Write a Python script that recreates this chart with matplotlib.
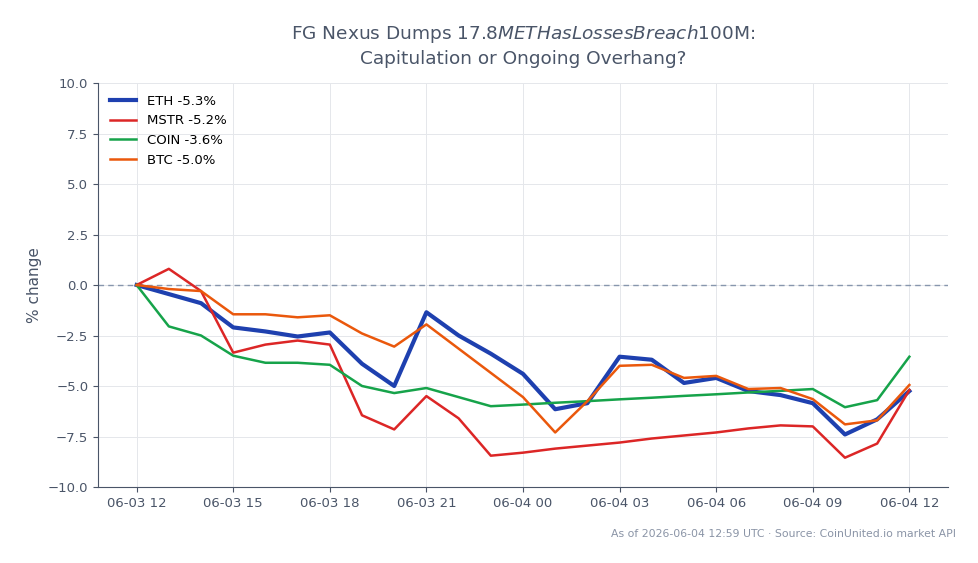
import numpy as np
import pandas as pd
import matplotlib
matplotlib.use("Agg")
import matplotlib.pyplot as plt
import matplotlib.dates as mdates

# hourly closes, % change since 2026-06-03 12:00 UTC
times = pd.date_range("2026-06-03 12:00", "2026-06-04 12:00", freq="h")

eth = [0.0, -0.45, -0.9, -2.1, -2.3, -2.55, -2.35, -3.9, -5.0, -1.35,
       -2.5, -3.4, -4.4, -6.15, -5.85, -3.55, -3.7, -4.85, -4.6, -5.25,
       -5.45, -5.85, -7.4, -6.65, -5.25]
mstr = [0.0, 0.8, -0.3, -3.35, -2.95, -2.75, -2.95, -6.45, -7.15, -5.5,
        -6.6, -8.45, -8.3, -8.1, -7.95, -7.8, -7.6, -7.45, -7.3, -7.1,
        -6.95, -7.0, -8.55, -7.85, -5.2]
coin = [0.0, -2.05, -2.5, -3.5, -3.85, -3.85, -3.95, -5.0, -5.35, -5.1,
        -5.55, -6.0, -5.92, -5.83, -5.75, -5.66, -5.58, -5.49, -5.41, -5.32,
        -5.24, -5.15, -6.05, -5.7, -3.55]
btc = [0.0, -0.2, -0.3, -1.45, -1.45, -1.6, -1.5, -2.4, -3.05, -1.95,
       -3.15, -4.35, -5.55, -7.3, -5.75, -4.0, -3.95, -4.6, -4.5, -5.15,
       -5.1, -5.65, -6.9, -6.7, -4.95]

series = [("ETH", eth, "#1e40af", 3.0),
          ("MSTR", mstr, "#dc2626", 1.8),
          ("COIN", coin, "#16a34a", 1.8),
          ("BTC", btc, "#ea580c", 1.8)]
last_pct = {"ETH": -5.3, "MSTR": -5.2, "COIN": -3.6, "BTC": -5.0}

text_col = "#4a5568"

fig = plt.figure(figsize=(9.79, 5.63), dpi=100)
ax = fig.add_axes([98 / 979, 1 - 487 / 563, 850 / 979, 404 / 563])

for name, vals, col, lw in series:
    ax.plot(times, vals, color=col, lw=lw, label=f"{name} {last_pct[name]:.1f}%")

ax.axhline(0, color="#8796ad", lw=1, ls=(0, (4, 3)), zorder=1.5)

ax.set_ylim(-10, 10)
ax.set_yticks(np.arange(-10, 10.1, 2.5))
ax.xaxis.set_major_locator(mdates.HourLocator(byhour=range(0, 24, 3)))
ax.xaxis.set_major_formatter(mdates.DateFormatter("%m-%d %H"))

ax.grid(True, color="#e5e7eb", lw=0.7)
ax.set_axisbelow(True)
for s in ["top", "right"]:
    ax.spines[s].set_visible(False)
for s in ["left", "bottom"]:
    ax.spines[s].set_color(text_col)
ax.tick_params(colors=text_col, labelsize=9.5)
ax.set_ylabel("% change", color=text_col, fontsize=11)

ax.set_title("FG Nexus Dumps $17.8M ETH as Losses Breach $100M:\n"
             "Capitulation or Ongoing Overhang?",
             color=text_col, fontsize=13.3, pad=14, linespacing=1.35)

ax.legend(loc="upper left", frameon=False, fontsize=9.5)

fig.text(956 / 979, 1 - 534 / 563,
         "As of 2026-06-04 12:59 UTC \u00b7 Source: CoinUnited.io market API",
         ha="right", va="center", fontsize=7.8, color="#8a94a6")

fig.savefig("out.png", dpi=100)
